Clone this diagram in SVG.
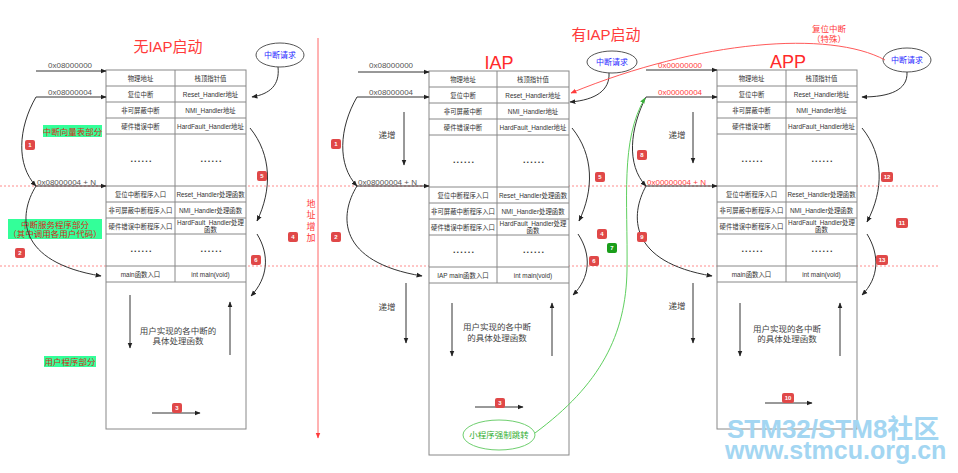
<svg xmlns="http://www.w3.org/2000/svg" width="958" height="473" viewBox="0 0 958 473">
<defs>
<marker id="ab" viewBox="0 0 10 10" refX="9" refY="5" markerWidth="6" markerHeight="6" markerUnits="userSpaceOnUse" orient="auto"><path d="M0,1 L10,5 L0,9 z" fill="#222"/></marker>
<marker id="ar" viewBox="0 0 10 10" refX="9" refY="5" markerWidth="6" markerHeight="6" markerUnits="userSpaceOnUse" orient="auto"><path d="M0,1 L10,5 L0,9 z" fill="#ff3b3b"/></marker>
<marker id="ag" viewBox="0 0 10 10" refX="9" refY="5" markerWidth="6" markerHeight="6" markerUnits="userSpaceOnUse" orient="auto"><path d="M0,1 L10,5 L0,9 z" fill="#3ab03a"/></marker>
</defs>
<style>
text{font-family:"Liberation Sans","Noto Sans CJK SC",sans-serif}
.tb{fill:#fff;stroke:#888;stroke-width:1}
.ln{stroke:#888;stroke-width:1;fill:none}
.t{font-size:6.4px;fill:#333;text-anchor:middle}
.dots{font-size:9px;font-weight:bold;fill:#333;text-anchor:middle;letter-spacing:1.2px}
.bx{font-size:8.5px;fill:#444;text-anchor:middle}
.addr{font-size:8px;fill:#555}
.addrr{font-size:8px;fill:#ff4040}
.title{font-size:15px;fill:#ff3a3a;text-anchor:middle}
.big{font-size:18px;fill:#ff2a2a;text-anchor:middle}
.req{font-size:8px;fill:#2a2aff;text-anchor:middle}
.cb{fill:none;stroke:#333;stroke-width:1;marker-end:url(#ab)}
.cr{fill:none;stroke:#ff5a5a;stroke-width:1;marker-end:url(#ar)}
.cg{fill:none;stroke:#5fcf5f;stroke-width:1;marker-end:url(#ag)}
.dash{stroke:#ff8c8c;stroke-width:1;stroke-dasharray:2,2}
.bdg{fill:#e04848}
.bdgg{fill:#1a9e1a}
.bt{font-size:6px;fill:#fff;font-weight:bold;text-anchor:middle}
.gl{fill:#33ff99}
.glt{font-size:8.5px;fill:#d42a1a;text-anchor:middle}
.inc{font-size:8.5px;fill:#444;text-anchor:middle}
.ell{fill:#fff;stroke:#555;stroke-width:1}
.wm{fill:#a3d6f2;font-weight:bold}
</style>

<!-- guide lines -->
<g id="guides">
<line class="dash" x1="0" y1="186" x2="940" y2="186"/>
<line class="dash" x1="0" y1="266" x2="940" y2="266"/>
<line x1="318" y1="38" x2="318" y2="438" stroke="#ff6666" stroke-width="1" marker-end="url(#ar)"/>
<text x="311" y="207" font-size="9" fill="#ff3b3b" text-anchor="middle">地</text>
<text x="311" y="218" font-size="9" fill="#ff3b3b" text-anchor="middle">址</text>
<text x="311" y="230" font-size="9" fill="#ff3b3b" text-anchor="middle">增</text>
<text x="311" y="241" font-size="9" fill="#ff3b3b" text-anchor="middle">加</text>
</g>

<!-- titles -->
<g id="titles">
<text class="title" x="168" y="52">无IAP启动</text>
<text class="title" x="606" y="40">有IAP启动</text>
<text class="big" x="499" y="69">IAP</text>
<text class="big" x="788" y="68">APP</text>
</g>

<!-- left table -->
<g id="table-left" transform="translate(106,70)">
<rect class="tb" x="0" y="0" width="140" height="359"/>
<path class="ln" d="M0,16H140M0,32H140M0,48H140M0,64H140M0,116H140M0,132H140M0,148H140M0,164H140M0,196H140M0,212H140M69,0V212"/>
<text class="t" x="34.5" y="10.5">物理地址</text><text class="t" x="104.5" y="10.5">栈顶指针值</text>
<text class="t" x="34.5" y="26.5">复位中断</text><text class="t" x="104.5" y="26.5">Reset_Handler地址</text>
<text class="t" x="34.5" y="42.5">非可屏蔽中断</text><text class="t" x="104.5" y="42.5">NMI_Handler地址</text>
<text class="t" x="34.5" y="58.5">硬件错误中断</text><text class="t" x="104.5" y="58.5">HardFault_Handler地址</text>
<text class="dots" x="35.5" y="92">......</text><text class="dots" x="105.5" y="92">......</text>
<text class="t" x="34.5" y="126.5">复位中断程序入口</text><text class="t" x="104.5" y="126.5">Reset_Handler处理函数</text>
<text class="t" x="34.5" y="142.5">非可屏蔽中断程序入口</text><text class="t" x="104.5" y="142.5">NMI_Handler处理函数</text>
<text class="t" x="34.5" y="158.5">硬件错误中断程序入口</text><text class="t" x="104.5" y="154.5">HardFault_Handler处理</text><text class="t" x="104.5" y="162">函数</text>
<text class="dots" x="35.5" y="182">......</text><text class="dots" x="105.5" y="182">......</text>
<text class="t" x="34.5" y="206.5">main函数入口</text><text class="t" x="104.5" y="206.5">int main(void)</text>
<line class="cb" x1="24" y1="225" x2="24" y2="278"/>
<line class="cb" x1="124" y1="285" x2="124" y2="232"/>
<text class="bx" x="72" y="264">用户实现的各中断的</text>
<text class="bx" x="72" y="274">具体处理函数</text>
<line class="cb" x1="46" y1="343" x2="94" y2="343"/>
</g>

<!-- middle table -->
<g id="table-iap" transform="translate(429,71)">
<rect class="tb" x="0" y="0" width="140" height="384"/>
<path class="ln" d="M0,16H140M0,32H140M0,48H140M0,64H140M0,116H140M0,132H140M0,148H140M0,164H140M0,196H140M0,212H140M68,0V212"/>
<text class="t" x="34" y="10.5">物理地址</text><text class="t" x="104" y="10.5">栈顶指针值</text>
<text class="t" x="34" y="26.5">复位中断</text><text class="t" x="104" y="26.5">Reset_Handler地址</text>
<text class="t" x="34" y="42.5">非可屏蔽中断</text><text class="t" x="104" y="42.5">NMI_Handler地址</text>
<text class="t" x="34" y="58.5">硬件错误中断</text><text class="t" x="104" y="58.5">HardFault_Handler地址</text>
<text class="dots" x="35" y="92">......</text><text class="dots" x="105" y="92">......</text>
<text class="t" x="34" y="126.5">复位中断程序入口</text><text class="t" x="104" y="126.5">Reset_Handler处理函数</text>
<text class="t" x="34" y="142.5">非可屏蔽中断程序入口</text><text class="t" x="104" y="142.5">NMI_Handler处理函数</text>
<text class="t" x="34" y="158.5">硬件错误中断程序入口</text><text class="t" x="104" y="154.5">HardFault_Handler处理</text><text class="t" x="104" y="162">函数</text>
<text class="dots" x="35" y="182">......</text><text class="dots" x="105" y="182">......</text>
<text class="t" x="34" y="206.5">IAP main函数入口</text><text class="t" x="104" y="206.5">int main(void)</text>
<line class="cb" x1="23" y1="232" x2="23" y2="285"/>
<line class="cb" x1="123" y1="285" x2="123" y2="232"/>
<text class="bx" x="68" y="259">用户实现的各中断</text>
<text class="bx" x="68" y="270">的具体处理函数</text>
<line class="cb" x1="46" y1="336" x2="94" y2="336"/>
</g>

<!-- right table -->
<g id="table-app" transform="translate(717,70)">
<rect class="tb" x="0" y="0" width="140" height="359"/>
<path class="ln" d="M0,16H140M0,32H140M0,48H140M0,64H140M0,116H140M0,132H140M0,148H140M0,164H140M0,196H140M0,212H140M69,0V212"/>
<text class="t" x="34.5" y="10.5">物理地址</text><text class="t" x="104.5" y="10.5">栈顶指针值</text>
<text class="t" x="34.5" y="26.5">复位中断</text><text class="t" x="104.5" y="26.5">Reset_Handler地址</text>
<text class="t" x="34.5" y="42.5">非可屏蔽中断</text><text class="t" x="104.5" y="42.5">NMI_Handler地址</text>
<text class="t" x="34.5" y="58.5">硬件错误中断</text><text class="t" x="104.5" y="58.5">HardFault_Handler地址</text>
<text class="dots" x="35.5" y="92">......</text><text class="dots" x="105.5" y="92">......</text>
<text class="t" x="34.5" y="126.5">复位中断程序入口</text><text class="t" x="104.5" y="126.5">Reset_Handler处理函数</text>
<text class="t" x="34.5" y="142.5">非可屏蔽中断程序入口</text><text class="t" x="104.5" y="142.5">NMI_Handler处理函数</text>
<text class="t" x="34.5" y="158.5">硬件错误中断程序入口</text><text class="t" x="104.5" y="154.5">HardFault_Handler处理</text><text class="t" x="104.5" y="162">函数</text>
<text class="dots" x="35.5" y="182">......</text><text class="dots" x="105.5" y="182">......</text>
<text class="t" x="34.5" y="206.5">main函数入口</text><text class="t" x="104.5" y="206.5">int main(void)</text>
<line class="cb" x1="23" y1="233" x2="23" y2="286"/>
<line class="cb" x1="123" y1="286" x2="123" y2="233"/>
<text class="bx" x="70" y="262">用户实现的各中断</text>
<text class="bx" x="70" y="272">的具体处理函数</text>
<line class="cb" x1="48" y1="333" x2="95" y2="333"/>
</g>

<!-- request ellipses -->
<g id="req-left"><ellipse class="ell" cx="280" cy="55" rx="24" ry="12"/><text class="req" x="280" y="58">中断请求</text></g>
<g id="req-iap"><ellipse class="ell" cx="612" cy="62" rx="25" ry="11"/><text class="req" x="612" y="65">中断请求</text></g>
<g id="req-app"><ellipse class="ell" cx="907" cy="60" rx="24" ry="12"/><text class="req" x="907" y="63">中断请求</text></g>
<g id="jump"><ellipse fill="#fff" stroke="#6fcf6f" stroke-width="1" cx="499" cy="435" rx="36" ry="15"/><text x="499" y="438" font-size="8.5" fill="#2fae2f" text-anchor="middle">小程序强制跳转</text></g>

<!-- labels -->
<g id="labels">
<text class="addr" x="48" y="68">0x08000000</text>
<text class="addr" x="48" y="95">0x08000004</text>
<text class="addr" x="37" y="185">0x08000004 + N</text>
<text class="addr" x="369" y="68">0x08000000</text>
<text class="addr" x="369" y="95">0x08000004</text>
<text class="addr" x="358" y="185">0x08000004 + N</text>
<text class="addrr" x="658" y="68">0x00000000</text>
<text class="addrr" x="658" y="95">0x00000004</text>
<text class="addrr" x="647" y="185">0x00000004 + N</text>
<rect class="gl" x="43" y="125" width="59" height="12"/>
<text class="glt" x="72.5" y="134.5">中断向量表部分</text>
<rect class="gl" x="8" y="219" width="94" height="20"/>
<text class="glt" x="55" y="227.5">中断服务程序部分</text>
<text class="glt" x="55" y="237">（其中调用各用户代码）</text>
<rect class="gl" x="44" y="356" width="52" height="11"/>
<text class="glt" x="70" y="364.5">用户程序部分</text>
<text class="inc" x="387" y="138">递增</text>
<text class="inc" x="387" y="310">递增</text>
<text class="inc" x="677" y="138">递增</text>
<text class="inc" x="677" y="309">递增</text>
<text x="829" y="32" font-size="8.5" fill="#ff3b3b" text-anchor="middle">复位中断</text>
<text x="829" y="42" font-size="8.5" fill="#ff3b3b" text-anchor="middle">（特殊）</text>
</g>

<!-- connectors -->
<g id="connectors">
<line class="cb" x1="36" y1="71" x2="106" y2="71"/>
<line class="cb" x1="36" y1="97" x2="106" y2="97"/>
<line class="cb" x1="36" y1="186" x2="106" y2="186"/>
<path class="cb" d="M36,97 C18,128 16,165 36,186"/>
<path class="cb" d="M36,186 C18,215 16,262 101,276"/>
<path class="cb" d="M278,67 C280,85 270,94 252,97"/>
<path class="cb" d="M250,128 C272,155 272,190 257,221"/>
<path class="cb" d="M257,234 C270,255 268,278 251,296"/>

<line class="cb" x1="358" y1="72" x2="429" y2="72"/>
<line class="cb" x1="357" y1="97" x2="429" y2="97"/>
<line class="cb" x1="356" y1="186" x2="429" y2="186"/>
<path class="cb" d="M357,97 C339,128 337,165 357,186"/>
<path class="cb" d="M357,186 C339,215 337,262 422,276"/>
<path class="cb" d="M609,73 C610,90 596,100 570,102"/>
<path class="cb" d="M572,128 C594,155 594,190 579,221"/>
<path class="cb" d="M578,234 C592,255 590,278 573,295"/>
<line class="cb" x1="404" y1="112" x2="404" y2="165"/>
<line class="cb" x1="406" y1="283" x2="406" y2="343"/>

<line class="cb" x1="646" y1="70" x2="717" y2="70"/>
<line class="cb" x1="646" y1="97" x2="717" y2="97"/>
<line class="cb" x1="646" y1="186" x2="717" y2="186"/>
<path class="cb" d="M646,97 C630,128 626,165 646,186"/>
<path class="cb" d="M646,186 C630,215 628,262 712,276"/>
<path class="cb" d="M907,72 C908,90 890,97 862,97"/>
<path class="cb" d="M862,128 C884,155 884,190 867,222"/>
<path class="cb" d="M867,234 C880,255 879,278 862,295"/>
<line class="cb" x1="693" y1="112" x2="693" y2="163"/>
<line class="cb" x1="693" y1="283" x2="693" y2="343"/>

<path class="cr" d="M885,60 C830,30 700,40 571,93"/>
<path class="cg" d="M535,433 C600,385 626,335 627,270 C628,200 620,140 645,98"/>
</g>

<!-- badges -->
<g id="badges">
<rect class="bdg" x="25" y="140" width="10" height="10" rx="2"/><text class="bt" x="30" y="147">1</text>
<rect class="bdg" x="15" y="248" width="10" height="10" rx="2"/><text class="bt" x="20" y="255">2</text>
<rect class="bdg" x="172" y="403" width="10" height="10" rx="2"/><text class="bt" x="177" y="410">3</text>
<rect class="bdg" x="288" y="232" width="10" height="10" rx="2"/><text class="bt" x="293" y="239">4</text>
<rect class="bdg" x="257" y="171" width="10" height="10" rx="2"/><text class="bt" x="262" y="178">5</text>
<rect class="bdg" x="251" y="255" width="10" height="10" rx="2"/><text class="bt" x="256" y="262">6</text>

<rect class="bdg" x="331" y="139" width="10" height="10" rx="2"/><text class="bt" x="336" y="146">1</text>
<rect class="bdg" x="331" y="232" width="10" height="10" rx="2"/><text class="bt" x="336" y="239">2</text>
<rect class="bdg" x="495" y="398" width="10" height="10" rx="2"/><text class="bt" x="500" y="405">3</text>
<rect class="bdg" x="597" y="229" width="10" height="10" rx="2"/><text class="bt" x="602" y="236">4</text>
<rect class="bdg" x="595" y="172" width="10" height="10" rx="2"/><text class="bt" x="600" y="179">5</text>
<rect class="bdg" x="589" y="256" width="10" height="10" rx="2"/><text class="bt" x="594" y="263">6</text>
<rect class="bdgg" x="607" y="243" width="10" height="10" rx="2"/><text class="bt" x="612" y="250">7</text>

<rect class="bdg" x="637" y="150" width="10" height="10" rx="2"/><text class="bt" x="642" y="157">8</text>
<rect class="bdg" x="637" y="232" width="10" height="10" rx="2"/><text class="bt" x="642" y="239">9</text>
<rect class="bdg" x="782" y="393" width="12" height="10" rx="2"/><text class="bt" x="788" y="400">10</text>
<rect class="bdg" x="896" y="218" width="12" height="10" rx="2"/><text class="bt" x="902" y="225">11</text>
<rect class="bdg" x="881" y="172" width="12" height="10" rx="2"/><text class="bt" x="887" y="179">12</text>
<rect class="bdg" x="876" y="255" width="12" height="10" rx="2"/><text class="bt" x="882" y="262">13</text>
</g>

<!-- watermark -->
<g id="watermark">
<text class="wm" x="727" y="438" font-size="26">STM32/STM8社区</text>
<text class="wm" x="725" y="459" font-size="25">www.stmcu.org.cn</text>
</g>
</svg>
